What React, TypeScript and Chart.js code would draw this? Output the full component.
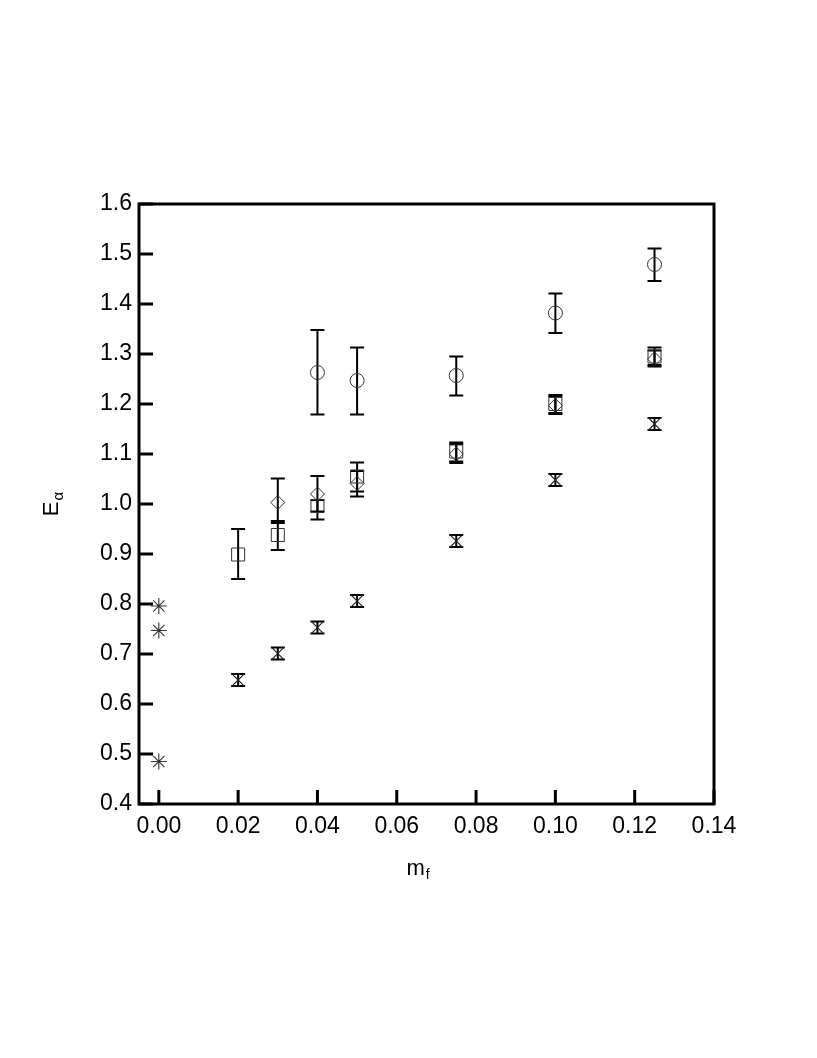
import React, { useEffect, useRef } from "react";
import { Chart, registerables } from "chart.js";

Chart.register(...registerables);

const xTicks = [0, 0.02, 0.04, 0.06, 0.08, 0.1, 0.12, 0.14];
const yTicks = [0.4, 0.5, 0.6, 0.7, 0.8, 0.9, 1.0, 1.1, 1.2, 1.3, 1.4, 1.5, 1.6];

const starX = [0, 0, 0];
const starY = [0.796, 0.747, 0.485];

const circleX = [0.04, 0.05, 0.075, 0.1, 0.125];
const circleY = [1.263, 1.247, 1.257, 1.382, 1.479];
const circleHi = [1.348, 1.313, 1.295, 1.421, 1.511];
const circleLo = [1.179, 1.179, 1.217, 1.342, 1.446];

const squareX = [0.02, 0.03, 0.04, 0.05, 0.075, 0.1, 0.125];
const squareY = [0.899, 0.938, 0.996, 1.055, 1.105, 1.2, 1.295];
const squareHi = [0.95, 0.962, 1.008, 1.083, 1.123, 1.218, 1.313];
const squareLo = [0.85, 0.908, 0.985, 1.025, 1.085, 1.182, 1.278];

const diamondX = [0.03, 0.04, 0.05, 0.075, 0.1, 0.125];
const diamondY = [1.003, 1.02, 1.041, 1.1, 1.197, 1.29];
const diamondHi = [1.051, 1.056, 1.066, 1.12, 1.215, 1.307];
const diamondLo = [0.966, 0.969, 1.015, 1.082, 1.18, 1.275];

const crossX = [0.02, 0.03, 0.04, 0.05, 0.075, 0.1, 0.125];
const crossY = [0.648, 0.701, 0.753, 0.806, 0.926, 1.048, 1.16];
const crossHi = [0.66, 0.713, 0.765, 0.818, 0.938, 1.06, 1.172];
const crossLo = [0.636, 0.689, 0.741, 0.794, 0.914, 1.036, 1.148];

const FONT = "'Liberation Sans', Arial, Helvetica, sans-serif";

const pts = (xs: number[], ys: number[]) => xs.map((x, i) => ({ x, y: ys[i] }));

const errorBarPlugin = {
  id: "errbars",
  beforeDatasetsDraw(chart: any) {
    const { ctx, scales } = chart;
    const x = scales.x;
    const y = scales.y;
    ctx.save();
    ctx.strokeStyle = "#000";
    ctx.lineWidth = 2;
    chart.data.datasets.forEach((ds: any) => {
      if (!ds.errHi) return;
      ds.data.forEach((p: any, i: number) => {
        const px = x.getPixelForValue(p.x);
        const top = y.getPixelForValue(ds.errHi[i]);
        const bot = y.getPixelForValue(ds.errLo[i]);
        const cw = 7;
        ctx.beginPath();
        ctx.moveTo(px, top);
        ctx.lineTo(px, bot);
        ctx.moveTo(px - cw, top);
        ctx.lineTo(px + cw, top);
        ctx.moveTo(px - cw, bot);
        ctx.lineTo(px + cw, bot);
        ctx.stroke();
      });
    });
    ctx.restore();
  },
};

const framePlugin = {
  id: "frame",
  afterDraw(chart: any) {
    const { ctx, chartArea: a, scales } = chart;
    const x = scales.x;
    const y = scales.y;
    ctx.save();
    ctx.strokeStyle = "#000";
    ctx.lineWidth = 3;
    ctx.strokeRect(a.left, a.top, a.right - a.left, a.bottom - a.top);
    ctx.beginPath();
    x.ticks.forEach((t: any) => {
      const px = x.getPixelForValue(t.value);
      ctx.moveTo(px, a.bottom);
      ctx.lineTo(px, a.bottom - 14);
    });
    y.ticks.forEach((t: any) => {
      const py = y.getPixelForValue(t.value);
      ctx.moveTo(a.left, py);
      ctx.lineTo(a.left + 14, py);
    });
    ctx.stroke();

    ctx.fillStyle = "#000";
    ctx.textAlign = "left";
    ctx.textBaseline = "alphabetic";
    // y title E_alpha (rotated)
    const cy = (a.top + a.bottom) / 2;
    ctx.save();
    ctx.font = `22px ${FONT}`;
    const wE = ctx.measureText("E").width;
    ctx.font = `15px ${FONT}`;
    const wA = ctx.measureText("α").width;
    const total = wE + 1 + wA;
    ctx.translate(a.left - 81, cy + total / 2);
    ctx.rotate(-Math.PI / 2);
    ctx.font = `22px ${FONT}`;
    ctx.fillText("E", 0, 0);
    ctx.font = `15px ${FONT}`;
    ctx.fillText("α", wE + 1, 5);
    ctx.restore();

    // x title m_f
    const cx = (a.left + a.right) / 2;
    ctx.font = `22px ${FONT}`;
    const wm = ctx.measureText("m").width;
    const bx = cx - 20;
    const by = a.bottom + 71;
    ctx.fillText("m", bx, by);
    ctx.font = `14px ${FONT}`;
    ctx.fillText("f", bx + wm + 1, by + 4);
    ctx.restore();
  },
};

export default function App() {
  const ref = useRef<HTMLCanvasElement | null>(null);
  useEffect(() => {
    if (!ref.current) return;
    const marker = {
      borderColor: "#333",
      backgroundColor: "rgba(0,0,0,0)",
      borderWidth: 1,
      showLine: false,
    };
    const chart = new Chart(ref.current, {
      type: "scatter",
      data: {
        datasets: [
          { ...marker, label: "stars", data: pts(starX, starY), pointStyle: "star", pointRadius: 8, borderColor: "#333", borderWidth: 1.1 },
          { ...marker, label: "circles", data: pts(circleX, circleY), pointStyle: "circle", pointRadius: 7, errHi: circleHi, errLo: circleLo } as any,
          { ...marker, label: "squares", data: pts(squareX, squareY), pointStyle: "rect", pointRadius: 9.2, errHi: squareHi, errLo: squareLo } as any,
          { ...marker, label: "diamonds", data: pts(diamondX, diamondY), pointStyle: "rectRot", pointRadius: 7, errHi: diamondHi, errLo: diamondLo } as any,
          { ...marker, label: "crosses", data: pts(crossX, crossY), pointStyle: "crossRot", pointRadius: 9, borderColor: "#222", borderWidth: 1.2, errHi: crossHi, errLo: crossLo } as any,
        ],
      },
      options: {
        responsive: false,
        animation: false,
        devicePixelRatio: 1,
        layout: { padding: { top: 204, right: 103, left: 0, bottom: 0 } },
        plugins: { legend: { display: false }, tooltip: { enabled: false } },
        elements: { point: { hoverRadius: 7 } },
        scales: {
          x: {
            type: "linear",
            min: -0.005,
            max: 0.14,
            afterBuildTicks: (s: any) => {
              s.ticks = xTicks.map((v) => ({ value: v }));
            },
            afterFit: (s: any) => {
              s.height = 254;
            },
            grid: { display: false, drawTicks: false },
            border: { display: false },
            ticks: {
              padding: 9,
              color: "#000",
              font: { family: FONT, size: 23 },
              callback: (v: any) => Number(v).toFixed(2),
            },
          },
          y: {
            type: "linear",
            min: 0.4,
            max: 1.6,
            afterBuildTicks: (s: any) => {
              s.ticks = yTicks.map((v) => ({ value: v }));
            },
            afterFit: (s: any) => {
              s.width = 139;
            },
            grid: { display: false, drawTicks: false },
            border: { display: false },
            ticks: {
              padding: 7,
              color: "#000",
              font: { family: FONT, size: 23 },
              callback: (v: any) => Number(v).toFixed(1),
            },
          },
        },
      },
      plugins: [errorBarPlugin, framePlugin],
    } as any);
    return () => chart.destroy();
  }, []);
  return (
    <div style={{ position: "absolute", left: 0, top: 0, width: 817, height: 1058, background: "#fff" }}>
      <canvas ref={ref} width={817} height={1058} style={{ width: 817, height: 1058, display: "block" }} />
    </div>
  );
}
